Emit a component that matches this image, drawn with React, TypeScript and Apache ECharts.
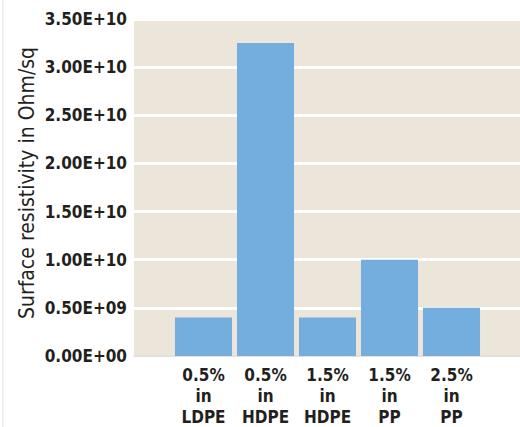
import React, { useEffect, useRef } from "react";
import * as echarts from "echarts";

const categories = ["0.5%\nin\nLDPE", "0.5%\nin\nHDPE", "1.5%\nin\nHDPE", "1.5%\nin\nPP", "2.5%\nin\nPP"];
const resistivity = [4.0e9, 3.25e10, 4.0e9, 1.0e10, 5.0e9];
const yTickLabels = ["0.00E+00", "0.50E+09", "1.00E+10", "1.50E+10", "2.00E+10", "2.50E+10", "3.00E+10", "3.50E+10"];
const yMax = 3.5e10;
const yStep = 0.5e10;
const yTitle = "Surface resistivity in Ohm/sq";

const FONT = "'DejaVu Sans Condensed', 'Liberation Sans', sans-serif";

export default function App() {
  const ref = useRef<HTMLDivElement>(null);
  useEffect(() => {
    if (!ref.current) return;
    const chart = echarts.init(ref.current, null, { renderer: "svg" });
    const top = 19;
    const bottom = 71;
    chart.setOption({
      animation: false,
      backgroundColor: "#ffffff",
      textStyle: { fontFamily: FONT },
      grid: [
        { left: 134, right: 0, top, bottom, show: true, backgroundColor: "#ECE5DA", borderWidth: 0 },
        { left: 172.5, right: 37.5, top, bottom },
      ],
      xAxis: [
        {
          type: "value",
          gridIndex: 0,
          min: 0,
          max: 1,
          axisLine: { show: true, lineStyle: { color: "#DCD7CD", width: 1.5 } },
          axisTick: { show: false },
          axisLabel: { show: false },
          splitLine: { show: false },
        },
        {
          type: "category",
          gridIndex: 1,
          data: categories,
          axisLine: { show: false },
          axisTick: { show: false },
          axisLabel: {
            margin: 8,
            fontFamily: FONT,
            fontWeight: "bold",
            fontSize: 17,
            lineHeight: 21,
            color: "#231F20",
            interval: 0,
          },
        },
      ],
      yAxis: [
        {
          type: "value",
          gridIndex: 0,
          min: 0,
          max: yMax,
          interval: yStep,
          axisLine: { show: false },
          axisTick: { show: false },
          axisLabel: {
            margin: 7,
            fontFamily: FONT,
            fontWeight: "bold",
            fontSize: 17,
            color: "#231F20",
            formatter: (v: number) => yTickLabels[Math.round(v / yStep)] ?? "",
          },
          splitLine: { show: true, lineStyle: { color: "#ffffff", width: 3 } },
        },
        {
          type: "value",
          gridIndex: 1,
          min: 0,
          max: yMax,
          interval: yStep,
          show: false,
          splitLine: { show: false },
        },
      ],
      series: [
        {
          type: "bar",
          xAxisIndex: 1,
          yAxisIndex: 1,
          data: resistivity,
          barCategoryGap: "8%",
          itemStyle: { color: "#73AEDE" },
        },
      ],
      graphic: [
        {
          type: "rect",
          left: 2,
          top: 0,
          shape: { width: 1.5, height: 427 },
          style: { fill: "#EFEBE3" },
          silent: true,
        },
        {
          type: "text",
          x: 27,
          y: 183,
          rotation: Math.PI / 2,
          style: {
            text: yTitle,
            fontFamily: FONT,
            fontSize: 21,
            fill: "#231F20",
            align: "center",
            verticalAlign: "middle",
          },
        },
      ],
    });
    return () => chart.dispose();
  }, []);
  return (
    <div
      ref={ref}
      style={{ position: "fixed", left: 0, top: 0, width: 520, height: 427 }}
    />
  );
}
